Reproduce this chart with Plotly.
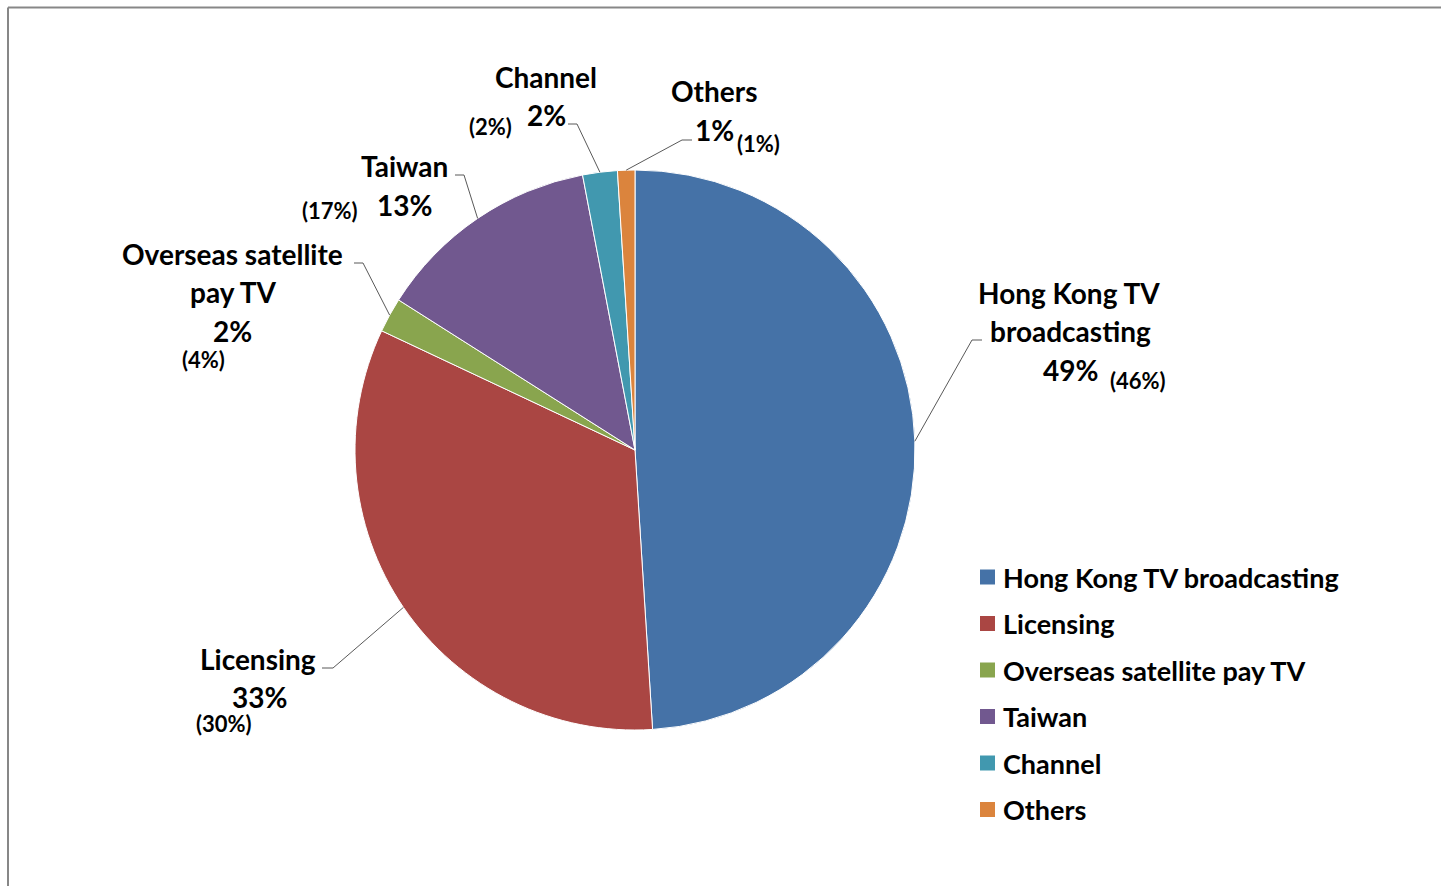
import numpy as np
import plotly.graph_objects as go

# Revenue mix by segment (current year) and prior-year shares in brackets
categories = ["Hong Kong TV broadcasting", "Licensing", "Overseas satellite pay TV",
              "Taiwan", "Channel", "Others"]
share_pct = [49, 33, 2, 13, 2, 1]
prior_pct = [46, 30, 4, 17, 2, 1]
label_lines = [["Hong Kong TV", "broadcasting"], ["Licensing"],
               ["Overseas satellite", "pay TV"], ["Taiwan"], ["Channel"], ["Others"]]
colors = ["#4572A7", "#AA4643", "#89A54E", "#71588F", "#4198AF", "#DB843D"]

W, H = 1441, 886
CX, CY, R = 635, 450, 280          # pie centre / radius in pixels
FONT = "Lato"
BIG, SMALL, LEG = 28, 22, 27

# Label placement (pixels): name line centres, value centre, prior-value centre,
# leader-line elbow and tail end
label_layout = [
    dict(names=[(1069, 293), (1070, 331)], pct=(1070, 370), prior=(1138, 381),
         elbow=(972, 340), tail=(982, 340)),
    dict(names=[(258, 659)], pct=(259, 697), prior=(224, 723),
         elbow=(333, 668), tail=(322, 668)),
    dict(names=[(232, 254), (233, 292)], pct=(232, 331), prior=(203, 360),
         elbow=(363, 263), tail=(354, 263)),
    dict(names=[(404, 166)], pct=(404, 205), prior=(330, 210),
         elbow=(464, 175), tail=(455, 175)),
    dict(names=[(546, 77)], pct=(546, 115), prior=(490, 127),
         elbow=(577, 124), tail=(568, 124)),
    dict(names=[(714, 91)], pct=(714, 130), prior=(758, 143),
         elbow=(682, 140), tail=(692, 140)),
]


def px(x):
    return x / W


def py(y):
    return 1 - y / H


fig = go.Figure(go.Pie(
    labels=categories, values=share_pct, sort=False, direction="clockwise",
    rotation=0, marker=dict(colors=colors, line=dict(color="white", width=1)),
    textinfo="none", hoverinfo="label+percent", showlegend=False,
    domain=dict(x=[px(CX - R), px(CX + R)], y=[py(CY + R), py(CY - R)]),
))

annotations = []
shapes = []


def text_note(text, x, y, size, xanchor="center"):
    return dict(text=text, x=px(x), y=py(y), xref="paper", yref="paper",
                showarrow=False, xanchor=xanchor, yanchor="middle",
                font=dict(family=FONT, size=size, color="black", weight="bold"))


# Leader lines start at the outer edge of each slice's mid angle
vals = np.array(share_pct, dtype=float)
cum = np.cumsum(vals) - vals / 2
mid_deg = cum / vals.sum() * 360.0
for i, lay in enumerate(label_layout):
    a = np.deg2rad(mid_deg[i])
    sx, sy = CX + R * np.sin(a), CY - R * np.cos(a)
    ex, ey = lay["elbow"]
    tx, ty = lay["tail"]
    path = f"M {px(sx)},{py(sy)} L {px(ex)},{py(ey)} L {px(tx)},{py(ty)}"
    shapes.append(dict(type="path", xref="paper", yref="paper", path=path,
                       line=dict(color="#595959", width=1)))

    for line, (lx, ly) in zip(label_lines[i], lay["names"]):
        annotations.append(text_note(line, lx, ly, BIG))
    annotations.append(text_note(f"{share_pct[i]}%", *lay["pct"], BIG))
    annotations.append(text_note(f"({prior_pct[i]}%)", *lay["prior"], SMALL))

# Legend: colour squares with category names
LEG_X, LEG_Y0, LEG_DY, SQ = 980, 577, 46.5, 15
for i, (cat, col) in enumerate(zip(categories, colors)):
    yc = LEG_Y0 + i * LEG_DY
    shapes.append(dict(type="rect", xref="paper", yref="paper",
                       x0=px(LEG_X), x1=px(LEG_X + SQ), y0=py(yc + SQ / 2), y1=py(yc - SQ / 2),
                       fillcolor=col, line=dict(width=0)))
    annotations.append(text_note(cat, LEG_X + SQ + 6, yc, LEG, xanchor="left"))

# Chart frame
shapes.append(dict(type="line", xref="paper", yref="paper", x0=px(8), x1=1.0,
                   y0=py(7.5), y1=py(7.5), line=dict(color="#878787", width=2)))
shapes.append(dict(type="line", xref="paper", yref="paper", x0=px(8), x1=px(8),
                   y0=py(7.5), y1=0.0, line=dict(color="#878787", width=2)))

fig.update_layout(
    width=W, height=H, margin=dict(l=0, r=0, t=0, b=0),
    paper_bgcolor="white", plot_bgcolor="white",
    annotations=annotations, shapes=shapes,
)

fig.write_html("out.html")
